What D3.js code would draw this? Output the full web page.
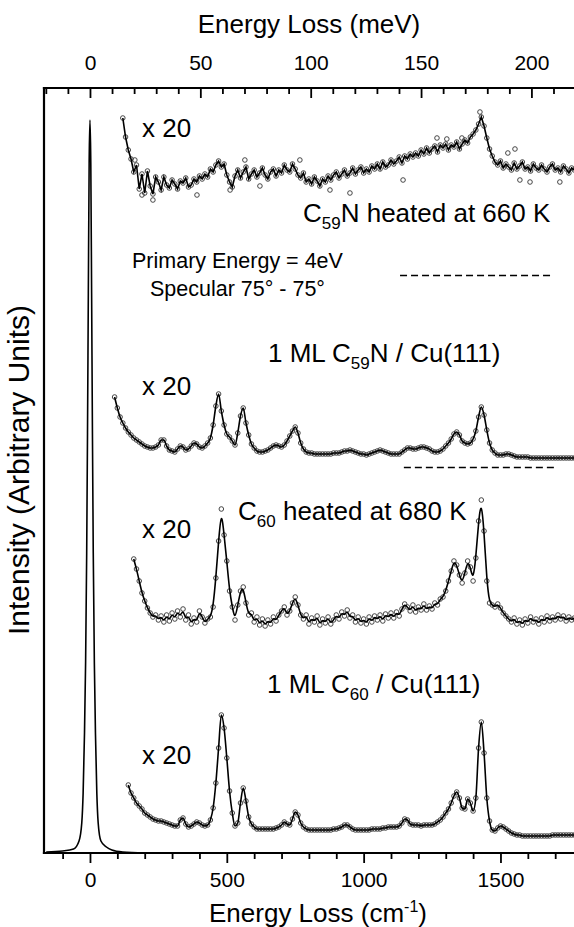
<!DOCTYPE html>
<html>
<head>
<meta charset="utf-8">
<script src="https://cdn.jsdelivr.net/npm/d3@7"></script>
<style>
  body { margin: 0; background: #fff; }
  svg { display: block; overflow: hidden; }
  text { font-family: "Liberation Sans", Arial, Helvetica, sans-serif; fill: #000; }
</style>
</head>
<body>
<div id="my_dataviz"></div>
<script>
// energy loss in cm-1, intensity in arbitrary (offset) units
var elasticEnergy = [-160, -100, -60, -40, -30, -25, -20, -16, -12, -9, -6, -3, 0, 3, 6, 9, 12, 16, 20, 25, 30, 40, 60, 80, 120, 200];
var elasticValues = [1, 2, 4, 12, 30, 60, 120, 190, 300, 420, 560, 690, 733, 690, 560, 420, 300, 190, 120, 60, 30, 12, 6, 3, 1, 0];

var spectrumStep = 10;

// C59N heated at 660 K (x 20)
var c59nHeatedStart = 120;
var c59nHeatedValues = [
  735, 716, 703, 694, 681, 688, 664, 679, 660, 682,
  667, 659, 676, 671, 663, 676, 668, 665, 673, 669,
  664, 672, 670, 675, 666, 668, 674, 671, 677, 674,
  679, 676, 684, 681, 688, 692, 686, 689, 678, 671,
  666, 677, 683, 675, 681, 686, 674, 679, 683, 676,
  680, 685, 678, 674, 681, 684, 677, 683, 680, 688,
  683, 681, 689, 684, 678, 675, 680, 671, 674, 669,
  676, 672, 667, 674, 671, 677, 673, 678, 681, 675,
  679, 683, 677, 680, 685, 679, 683, 686, 680, 684,
  681, 687, 684, 689, 684, 691, 686, 688, 693, 689,
  692, 696, 690, 697, 694, 699, 696, 700, 697, 703,
  699, 705, 700, 704, 707, 701, 708, 705, 709, 703,
  708, 706, 711, 704, 709, 713, 710, 716, 719, 723,
  729, 736, 727, 715, 704, 697, 691, 688, 692, 685,
  689, 686, 683, 690, 684, 687, 691, 684, 686, 682,
  689, 685, 683, 688, 684, 681, 686, 689, 683, 685,
  681, 687, 684, 680, 685, 683
];
// stray points of the same scan lying off the trace
var c59nHeatedScatterX = [164, 190, 230, 391, 512, 566, 621, 767, 877, 950, 1144, 1268, 1304, 1359, 1425, 1527, 1553, 1571, 1608, 1717];
var c59nHeatedScatterY = [693, 658, 653, 658, 663, 693, 667, 693, 663, 660, 673, 715, 714, 715, 741, 700, 704, 673, 671, 671];

// 1 ML C59N / Cu(111) (x 20)
var c59nCuStart = 90;
var c59nCuValues = [
  456, 445, 436, 430, 425, 421, 418, 415, 413, 411,
  409, 407, 406, 405, 405, 406, 408, 413, 413, 407,
  403, 402, 401, 404, 407, 406, 403, 404, 407, 410,
  409, 406, 405, 407, 410, 415, 428, 447, 459, 442,
  428, 419, 416, 412, 408, 420, 437, 445, 430, 418,
  409, 405, 402, 401, 401, 402, 403, 405, 407, 408,
  407, 406, 408, 412, 417, 422, 426, 420, 410, 404,
  401, 400, 400, 399, 399, 399, 399, 399, 399, 399,
  400, 400, 400, 401, 402, 402, 403, 402, 401, 400,
  399, 399, 398, 399, 400, 401, 402, 403, 402, 401,
  400, 399, 399, 399, 399, 401, 403, 405, 405, 404,
  404, 405, 406, 406, 405, 404, 402, 401, 401, 402,
  404, 407, 410, 414, 419, 421, 418, 412, 410, 409,
  410, 414, 422, 436, 446, 438, 423, 410, 403, 400,
  398, 398, 398, 399, 399, 398, 397, 396, 396, 396,
  396, 396, 395, 395, 395, 395, 395, 395, 395, 395,
  395, 395, 395, 395, 395, 395, 395, 395, 395
];

// C60 heated at 680 K (x 20)
var c60HeatedStart = 160;
var c60HeatedValues = [
  294, 284, 272, 260, 252, 245, 240, 236, 238, 233,
  237, 231, 238, 232, 240, 234, 242, 236, 244, 233,
  238, 229, 235, 231, 242, 236, 230, 234, 236, 246,
  275, 312, 344, 318, 292, 262, 246, 233, 248, 262,
  266, 250, 238, 240, 231, 236, 228, 234, 227, 233,
  229, 236, 232, 238, 242, 246, 238, 242, 250, 256,
  248, 238, 234, 238, 229, 235, 231, 237, 228, 234,
  230, 236, 229, 233, 238, 234, 241, 237, 243, 235,
  238, 231, 236, 230, 234, 229, 236, 231, 237, 233,
  238, 232, 239, 235, 240, 235, 241, 237, 244, 249,
  246, 242, 248, 241, 246, 243, 249, 243, 247, 244,
  250, 248, 254, 256, 262, 272, 282, 292, 288, 278,
  270, 280, 292, 286, 272, 295, 332, 353, 322, 272,
  250, 248, 246, 249, 245, 240, 237, 234, 231, 235,
  229, 233, 228, 234, 230, 236, 231, 234, 229, 235,
  231, 237, 232, 236, 233, 238, 234, 237, 232, 236,
  233, 235
];

// 1 ML C60 / Cu(111) (x 20)
var c60CuStart = 140;
var c60CuValues = [
  68, 60, 55, 50, 47, 44, 40, 38, 36, 34,
  33, 32, 32, 31, 30, 29, 28, 27, 27, 33,
  35, 29, 26, 27, 29, 31, 30, 28, 27, 28,
  33, 45, 70, 105, 138, 125, 95, 62, 40, 27,
  30, 50, 65, 52, 36, 29, 26, 24, 24, 24,
  24, 24, 24, 24, 25, 26, 28, 31, 29, 28,
  34, 41, 38, 30, 26, 24, 23, 23, 23, 23,
  23, 23, 23, 23, 23, 24, 24, 25, 26, 28,
  28, 26, 24, 23, 23, 23, 23, 23, 23, 24,
  24, 24, 24, 25, 25, 26, 26, 26, 26, 27,
  30, 34, 33, 29, 28, 28, 28, 27, 28, 28,
  28, 28, 29, 31, 33, 36, 40, 44, 50, 57,
  61, 55, 45, 44, 54, 50, 42, 55, 105, 131,
  100, 55, 32, 23, 22, 25, 27, 26, 24, 22,
  20, 19, 18, 18, 17, 17, 17, 17, 17, 17,
  17, 17, 17, 17, 17, 18, 18, 18, 18, 18,
  18, 18, 18, 18
];

// dashed reference lines
var dashFrom = [1133, 1147];
var dashTo = [1692, 1706];
var dashLevel = [578, 386];

var bottomMajor = [0, 500, 1000, 1500];
var topMajor = [0, 50, 100, 150, 200];
var cmPerMeV = 8.0655;

var margin = {top: 88, right: 0, bottom: 74, left: 44},
    width = 532,
    height = 853 - margin.top;

var svg = d3.select("#my_dataviz")
  .append("svg")
    .attr("width", 574)
    .attr("height", 927);

var plot = svg.append("g")
    .attr("transform", "translate(" + margin.left + "," + margin.top + ")");

var xScale = d3.scaleLinear().domain([-168, 1776]).range([0, width]);
var meVScale = d3.scaleLinear().domain([-168 / cmPerMeV, 1776 / cmPerMeV]).range([0, width]);
var yScale = d3.scaleLinear().domain([0, height]).range([height, 0]);

function toPoints(start, values) {
  return values.map(function (v, i) { return {x: start + i * spectrumStep, y: v}; });
}

var line = d3.line()
  .x(function (d) { return xScale(d.x); })
  .y(function (d) { return yScale(d.y); });

function drawCircles(pts) {
  plot.append("g")
    .selectAll("circle")
    .data(pts)
    .enter()
    .append("circle")
      .attr("cx", function (d) { return xScale(d.x); })
      .attr("cy", function (d) { return yScale(d.y); })
      .attr("r", 2.3)
      .attr("fill", "none")
      .attr("stroke", "#333")
      .attr("stroke-width", 0.9);
}

// elastic peak
var elastic = elasticEnergy.map(function (e, i) { return {x: e, y: elasticValues[i]}; });
plot.append("path")
  .datum(elastic)
  .attr("fill", "none")
  .attr("stroke", "#000")
  .attr("stroke-width", 1.6)
  .attr("d", line.curve(d3.curveMonotoneX));

var spectra = [
  {start: c59nHeatedStart, values: c59nHeatedValues, curve: d3.curveLinear},
  {start: c59nCuStart, values: c59nCuValues, curve: d3.curveMonotoneX},
  {start: c60HeatedStart, values: c60HeatedValues, curve: d3.curveBasis},
  {start: c60CuStart, values: c60CuValues, curve: d3.curveMonotoneX}
];

drawCircles(c59nHeatedScatterX.map(function (x, i) { return {x: x, y: c59nHeatedScatterY[i]}; }));

spectra.forEach(function (s) {
  var pts = toPoints(s.start, s.values);
  drawCircles(pts);
  plot.append("path")
    .datum(pts)
    .attr("fill", "none")
    .attr("stroke", "#000")
    .attr("stroke-width", 1.6)
    .attr("d", line.curve(s.curve));
});

// dashed lines
dashLevel.forEach(function (lv, i) {
  plot.append("line")
    .attr("x1", xScale(dashFrom[i]))
    .attr("x2", xScale(dashTo[i]))
    .attr("y1", Math.round(yScale(lv)) + 0.5)
    .attr("y2", Math.round(yScale(lv)) + 0.5)
    .attr("stroke", "#000")
    .attr("stroke-width", 1.4)
    .attr("stroke-dasharray", "7,4");
});

// axes
var bottomMinor = d3.range(-100, 1800, 100).filter(function (v) { return v % 500 != 0; });
var topMinor = d3.range(-20, 230, 10).filter(function (v) { return v % 50 != 0; });

plot.append("g")
  .attr("transform", "translate(0," + height + ")")
  .call(d3.axisBottom(xScale).tickValues(bottomMinor).tickSize(6).tickFormat(""));
plot.append("g")
  .attr("class", "xmajor")
  .attr("transform", "translate(0," + height + ")")
  .call(d3.axisBottom(xScale).tickValues(bottomMajor).tickSize(10).tickPadding(9).tickFormat(d3.format("d")));
plot.append("g")
  .call(d3.axisTop(meVScale).tickValues(topMinor).tickSizeInner(-6).tickSizeOuter(0).tickFormat(""));
plot.append("g")
  .attr("class", "xmajor")
  .call(d3.axisTop(meVScale).tickValues(topMajor).tickSizeInner(-10).tickSizeOuter(0).tickPadding(18).tickFormat(d3.format("d")));

plot.selectAll(".domain").remove();
plot.selectAll(".tick line").attr("stroke", "#000").attr("stroke-width", 1.8);
plot.selectAll(".xmajor text")
  .style("font-family", "'Liberation Sans', Arial, sans-serif")
  .style("font-size", "21px")
  .attr("fill", "#000");

// frame
var frame = [[0, 0, 0, height], [0, 0, width, 0], [0, height, width, height]];
frame.forEach(function (f) {
  plot.append("line")
    .attr("x1", f[0]).attr("y1", f[1]).attr("x2", f[2]).attr("y2", f[3])
    .attr("stroke", "#000")
    .attr("stroke-width", 2.2)
    .attr("stroke-linecap", "square");
});

// axis titles
svg.append("text")
  .attr("x", 309).attr("y", 33)
  .attr("text-anchor", "middle")
  .style("font-size", "26px")
  .text("Energy Loss (meV)");

var bt = svg.append("text")
  .attr("x", 318).attr("y", 922)
  .attr("text-anchor", "middle")
  .style("font-size", "26px");
bt.append("tspan").text("Energy Loss (cm");
bt.append("tspan").attr("dy", -10).style("font-size", "16px").text("-1");
bt.append("tspan").attr("dy", 10).text(")");

svg.append("text")
  .attr("transform", "translate(29,470) rotate(-90)")
  .attr("text-anchor", "middle")
  .style("font-size", "30px")
  .text("Intensity (Arbitrary Units)");

// annotations
function label(x, y, parts, size) {
  var t = svg.append("text").attr("x", x).attr("y", y).style("font-size", size + "px");
  var shift = 0;
  parts.forEach(function (p) {
    var ds = p[1] ? 7 : 0;
    t.append("tspan")
      .attr("dy", ds - shift)
      .style("font-size", p[1] ? Math.round(size * 0.65) + "px" : null)
      .text(p[0]);
    shift = ds;
  });
}

[137, 395, 538, 764].forEach(function (y) { label(142, y, [["x 20"]], 26); });
label(303, 222, [["C"], ["59", 1], ["N heated at 660 K"]], 26);
label(132, 268, [["Primary Energy = 4eV"]], 21.5);
label(150, 296, [["Specular 75\u00b0 - 75\u00b0"]], 21.5);
label(268, 362, [["1 ML C"], ["59", 1], ["N / Cu(111)"]], 26);
label(238, 520, [["C"], ["60", 1], [" heated at 680 K"]], 26);
label(267, 693, [["1 ML C"], ["60", 1], [" / Cu(111)"]], 26);
</script>
</body>
</html>
